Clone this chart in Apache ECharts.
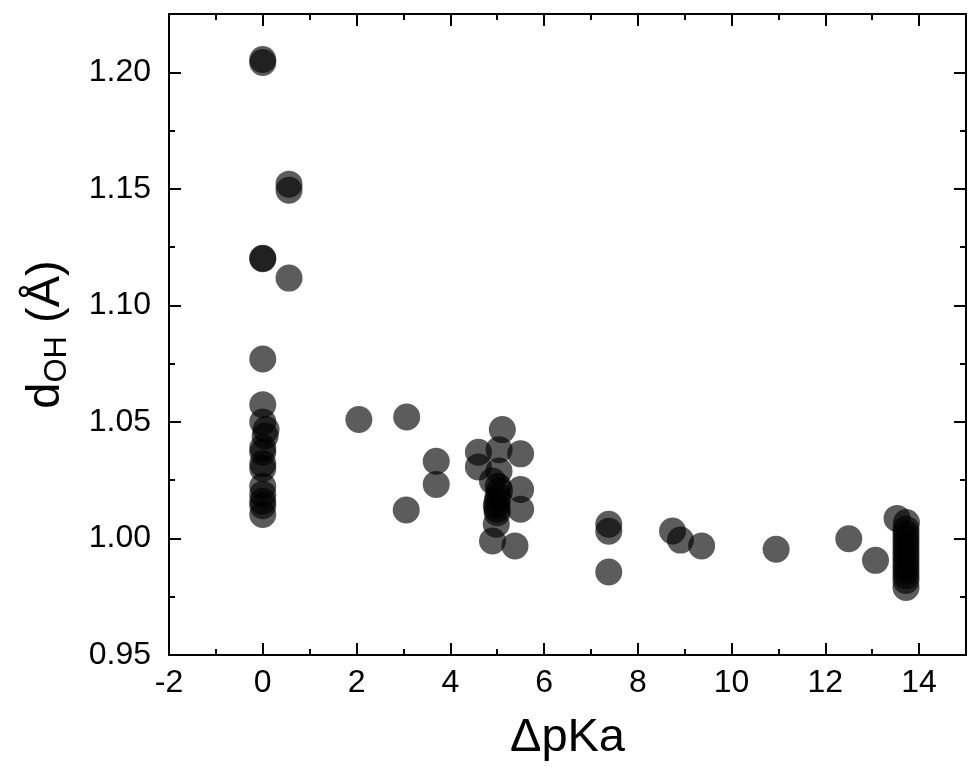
<!DOCTYPE html>
<html>
<head>
<meta charset="utf-8">
<script src="https://cdn.jsdelivr.net/npm/echarts@6/dist/echarts.min.js"></script>
<style>html,body{margin:0;padding:0;background:#fff}#chart{width:969px;height:767px}</style>
</head>
<body>
<div id="chart"></div>
<script>
// ΔpKa values
var dpKa = [
  0, 0, 0.56, 0.56, 0, 0, 0.56, 0, 0, 0, 0.07, 0.05, 0, 0, 0, 0, 0, 0, 0, 0, 0,
  2.05, 3.07, 3.06, 3.70, 3.70,
  4.60, 4.60, 5.11, 5.04, 5.50, 5.04, 4.90, 5.02, 5.05, 5.02, 5.00, 4.98, 5.00, 5.00, 5.50, 5.50, 4.98, 4.90, 5.38,
  7.38, 7.38, 7.38, 8.74, 8.91, 9.36, 10.95, 12.50, 13.07, 13.53,
  13.73, 13.72, 13.72, 13.72, 13.72, 13.72, 13.72, 13.72, 13.72, 13.72, 13.72, 13.72, 13.72, 13.72
];
// d_OH values (Å)
var dOH = [
  1.2055, 1.2042, 1.1520, 1.1494, 1.1200, 1.1202, 1.1117, 1.0770, 1.0574, 1.0500, 1.0467, 1.0440, 1.0389, 1.0370, 1.0320, 1.0300, 1.0224, 1.0190, 1.0160, 1.0140, 1.0103,
  1.0510, 1.0521, 1.0122, 1.0331, 1.0232,
  1.0370, 1.0307, 1.0467, 1.0381, 1.0363, 1.0289, 1.0246, 1.0224, 1.0205, 1.0180, 1.0160, 1.0140, 1.0125, 1.0110, 1.0210, 1.0125, 1.0061, 0.9989, 0.9968,
  1.0061, 1.0031, 0.9856, 1.0032, 0.9993, 0.9968, 0.9954, 0.9999, 0.9906, 1.0086,
  1.0068, 1.0040, 1.0020, 1.0000, 0.9980, 0.9960, 0.9940, 0.9920, 0.9900, 0.9880, 0.9860, 0.9840, 0.9820, 0.9790
];
var xTickLabels = ['-2', '0', '2', '4', '6', '8', '10', '12', '14'];
var yTickLabels = ['0.95', '1.00', '1.05', '1.10', '1.15', '1.20'];

var points = dpKa.map(function (x, i) { return [x, dOH[i]]; });
var FONT = '"Liberation Sans", Arial, sans-serif';
var lineStyle = { color: '#000', width: 2 };

function xFmt(v) {
  var s = String(Math.round(v));
  return xTickLabels.indexOf(s) >= 0 && Math.abs(v - Math.round(v)) < 1e-6 ? s : '';
}
function yFmt(v) {
  var s = v.toFixed(2);
  return yTickLabels.indexOf(s) >= 0 && Math.abs(v - parseFloat(s)) < 1e-6 ? s : '';
}

function xAxisDef(pos, interval, len, showLine, showLabel, name) {
  var a = {
    type: 'value', position: pos, min: -2, max: 15, interval: interval,
    axisLine: { show: showLine, onZero: false, lineStyle: lineStyle },
    axisTick: { show: true, inside: true, length: len, lineStyle: { color: '#000', width: 2 } },
    axisLabel: { show: showLabel, formatter: xFmt, fontFamily: FONT, fontSize: 32, color: '#000', margin: 12 },
    splitLine: { show: false }
  };
  if (name) {
    a.name = name; a.nameLocation = 'middle'; a.nameGap = 60;
    a.nameTextStyle = { fontFamily: FONT, fontSize: 47, color: '#000' };
  }
  return a;
}
function yAxisDef(pos, interval, len, showLine, showLabel, name) {
  var a = {
    type: 'value', position: pos, min: 0.95, max: 1.225, interval: interval,
    axisLine: { show: showLine, onZero: false, lineStyle: lineStyle },
    axisTick: { show: true, inside: true, length: len, lineStyle: { color: '#000', width: 2 } },
    axisLabel: { show: showLabel, formatter: yFmt, fontFamily: FONT, fontSize: 32, color: '#000', margin: 18 },
    splitLine: { show: false }
  };
  if (name) {
    a.name = name; a.nameLocation = 'middle'; a.nameGap = 96; a.nameRotate = 90;
    a.nameTextStyle = {
      fontFamily: FONT, color: '#000',
      rich: {
        m: { fontFamily: FONT, fontSize: 47, lineHeight: 54, color: '#000' },
        s: { fontFamily: FONT, fontSize: 31, lineHeight: 34, verticalAlign: 'bottom', color: '#000' }
      }
    };
  }
  return a;
}

var chart = echarts.init(document.getElementById('chart'), null, { renderer: 'canvas' });
chart.setOption({
  backgroundColor: '#fff',
  animation: false,
  grid: { left: 169, right: 1, top: 14, bottom: 111, containLabel: false },
  xAxis: [
    xAxisDef('bottom', 2, 12, true, true, 'ΔpKa'),
    xAxisDef('bottom', 1, 6, false, false),
    xAxisDef('top', 2, 12, true, false),
    xAxisDef('top', 1, 6, false, false)
  ],
  yAxis: [
    yAxisDef('left', 0.05, 12, true, true, '{m|d}{s|OH}{m| (Å)}'),
    yAxisDef('left', 0.025, 6, false, false),
    yAxisDef('right', 0.05, 12, true, false),
    yAxisDef('right', 0.025, 6, false, false)
  ],
  series: [{
    type: 'scatter',
    xAxisIndex: 0, yAxisIndex: 0,
    symbol: 'circle', symbolSize: 27,
    itemStyle: { color: 'rgba(0,0,0,0.8)' },
    data: points
  }]
});
</script>
</body>
</html>
